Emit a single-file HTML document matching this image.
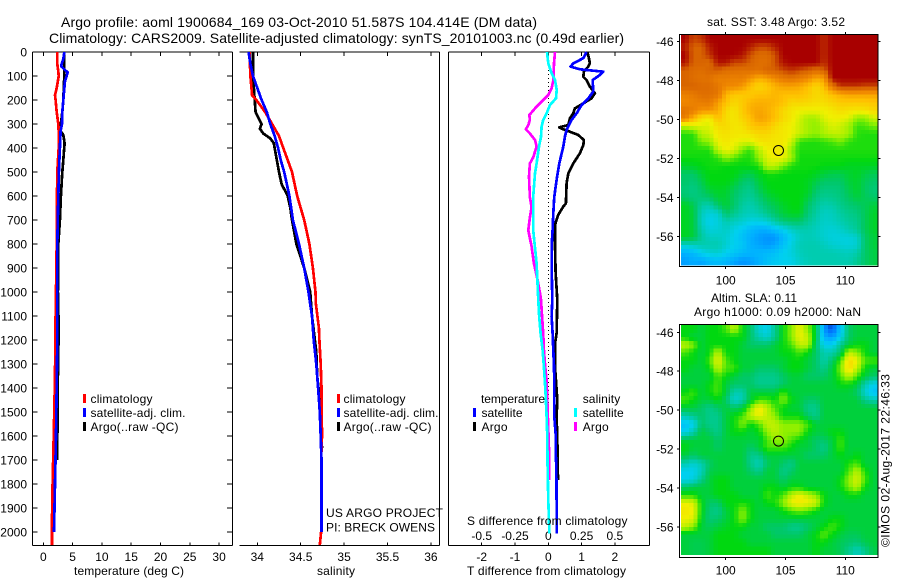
<!DOCTYPE html>
<html>
<head>
<meta charset="utf-8">
<style>
html,body{margin:0;padding:0;background:#fff;width:900px;height:580px;overflow:hidden}
svg{display:block}
text{font-family:"Liberation Sans",sans-serif;font-size:12px;fill:#000}
</style>
</head>
<body>
<svg id="fig" xmlns="http://www.w3.org/2000/svg" width="900" height="580" viewBox="0 0 900 580">
<text x="61" y="27" font-size="14" style="font-size:14px" textLength="476">Argo profile: aoml 1900684_169 03-Oct-2010 51.587S 104.414E (DM data)</text>
<text x="49" y="43" style="font-size:14px" textLength="575">Climatology: CARS2009. Satellite-adjusted climatology: synTS_20101003.nc (0.49d earlier)</text>
<g id="plots"></g>
<g id="maps"></g>
<g>
<rect x="83" y="394" width="3" height="9" fill="#f00"/>
<rect x="83" y="408" width="3" height="9" fill="#00f"/>
<rect x="83" y="422" width="3" height="9" fill="#000"/>
<text x="90.5" y="403" textLength="62">climatology</text>
<text x="90.5" y="417" textLength="95">satellite-adj. clim.</text>
<text x="90.5" y="431" textLength="88">Argo(..raw -QC)</text>
</g>
<g>
<rect x="337" y="394" width="3" height="9" fill="#f00"/>
<rect x="337" y="408" width="3" height="9" fill="#00f"/>
<rect x="337" y="422" width="3" height="9" fill="#000"/>
<text x="343.5" y="403" textLength="62">climatology</text>
<text x="343.5" y="417" textLength="95">satellite-adj. clim.</text>
<text x="343.5" y="431" textLength="88">Argo(..raw -QC)</text>
<text x="326" y="517" textLength="117">US ARGO PROJECT</text>
<text x="326" y="531.5" textLength="109">PI: BRECK OWENS</text>
</g>
<g>
<text x="481" y="403" textLength="64">temperature</text>
<rect x="473" y="408" width="3" height="9" fill="#00f"/>
<rect x="473" y="422" width="3" height="9" fill="#000"/>
<text x="481.5" y="417" textLength="41">satellite</text>
<text x="481.5" y="431" textLength="26">Argo</text>
<text x="582.7" y="403" textLength="37.5">salinity</text>
<rect x="574" y="408" width="3" height="9" fill="#0ff"/>
<rect x="574" y="422" width="3" height="9" fill="#f0f"/>
<text x="582.7" y="417" textLength="41">satellite</text>
<text x="582.7" y="431" textLength="26">Argo</text>
</g>
<text x="74" y="575" textLength="110">temperature (deg C)</text>
<text x="317" y="575" textLength="38">salinity</text>
<text x="467" y="575" textLength="159">T difference from climatology</text>
<text x="467" y="525" textLength="160.5">S difference from climatology</text>
<text x="707" y="26" textLength="138">sat. SST: 3.48 Argo: 3.52</text>
<text x="711" y="302" textLength="86">Altim. SLA: 0.11</text>
<text x="694" y="316" textLength="167">Argo h1000: 0.09 h2000: NaN</text>
<text transform="translate(889.5,547) rotate(-90)" textLength="173">©IMOS 02-Aug-2017 22:46:33</text>
</svg>
<script>
// ---- depth axis ----
const depthTicks = [0,100,200,300,400,500,600,700,800,900,1000,1100,1200,1300,1400,1500,1600,1700,1800,1900,2000];
// ---- temperature panel ----
const tempTicks = [0,5,10,15,20,25,30];
const tempClimDepth = [0,50,80,100,120,150,180,200,250,300,350,400,500,600,800,1000,1100,1350,1550,1800,1950,2054];
const tempClimValue = [2.39,2.39,2.56,2.62,2.5,2.28,1.99,2.1,2.28,2.56,2.67,2.62,2.39,2.33,2.28,2.16,2.1,1.99,1.82,1.59,1.48,1.48];
const tempSatDepth = [0,30,50,60,75,85,100,120,200,250,300,330,400,500,600,800,1000,1200,1400,1600,1800,2000];
const tempSatValue = [3.58,3.41,3.13,3.07,3.7,4.15,3.98,3.7,3.41,3.24,3.19,2.96,2.84,2.67,2.56,2.39,2.39,2.39,2.28,2.16,1.99,1.82];
const tempArgoDepth = [0,50,100,200,250,300,330,345,380,450,500,600,700,800,1000,1150,1350,1450,1700];
const tempArgoValue = [3.58,3.58,3.58,3.41,3.24,3.01,2.96,3.41,3.64,3.41,3.24,3.01,2.84,2.56,2.5,2.62,2.5,2.5,2.33];
// ---- salinity panel ----
const salTicks = [34,34.5,35,35.5,36];
const salClimDepth = [0,100,180,200,250,300,350,400,450,500,600,700,800,900,1000,1050,1150,1200,1300,1400,1600,1700,2000,2054];
const salClimValue = [33.91,33.92,33.94,33.99,34.09,34.17,34.25,34.3,34.35,34.4,34.46,34.54,34.6,34.64,34.67,34.675,34.71,34.715,34.73,34.74,34.745,34.735,34.735,34.72];
const salSatDepth = [0,50,100,150,200,250,300,350,400,450,500,600,700,800,900,1000,1050,1100,1200,1300,1400,1500,1600,1700,2000];
const salSatValue = [33.9,33.92,33.95,34,34.05,34.11,34.15,34.2,34.24,34.27,34.31,34.37,34.41,34.48,34.54,34.59,34.61,34.63,34.65,34.68,34.7,34.72,34.73,34.74,34.74];
const salArgoDepth = [0,100,200,250,280,300,320,340,360,380,420,500,550,600,650,700,800,900,1000,1100,1250,1350,1450,1650];
const salArgoValue = [33.95,33.95,33.97,33.98,34.02,34.05,34.03,34.07,34.15,34.19,34.21,34.25,34.28,34.35,34.38,34.4,34.45,34.54,34.61,34.63,34.68,34.69,34.72,34.745];
// ---- difference panel ----
const tDiffTicks = [-2,-1,0,1,2];
const sDiffTicks = [-0.5,-0.25,0,0.25,0.5];
const sDiffTickLabels = ['-0.5','-0.25','0','0.25','0.5'];
const tSatDepth = [0,26,47,61,72,82,96,117,165,193,221,256,283,325,353,394,464,533,603,672,742,811,881,1033,1103,1172,1242,1311,1381,1450,1519,1589,1658,1728,1867,2006];
const tSatValue = [1.15,1.05,0.75,0.67,0.95,1.65,1.55,1.33,1.35,1.2,1,0.85,0.7,0.55,0.5,0.45,0.33,0.25,0.18,0.15,0.13,0.1,0.1,0.12,0.1,0.13,0.15,0.17,0.18,0.18,0.18,0.22,0.22,0.24,0.25,0.25];
const tArgoDepth = [0,26,47,61,82,103,117,144,172,193,214,235,256,276,304,314,325,332,346,367,388,422,464,506,547,631,644,678,720,806,917,1033,1172,1214,1311,1450,1519,1608,1783];
const tArgoValue = [1.17,1.22,1.25,1.2,1.07,1.05,1.15,1.25,1.4,1.3,1.05,0.8,0.75,0.65,0.6,0.33,0.5,0.65,0.9,1.07,1.05,0.95,0.75,0.6,0.55,0.53,0.45,0.3,0.2,0.2,0.22,0.27,0.25,0.2,0.2,0.27,0.25,0.27,0.29];
const sSatDepth = [0,47,89,117,158,193,221,256,283,311,353,394,464,506,603,742,881,1033,1103,1172,1242,1311,1381,1450,1519,1589,1728,1867,2006];
const sSatValue = [-0.01,0,0.025,0.05,0.063,0.058,0.013,-0.013,-0.038,-0.05,-0.055,-0.07,-0.088,-0.1,-0.113,-0.113,-0.088,-0.075,-0.068,-0.058,-0.043,-0.033,-0.025,-0.018,-0.013,-0.008,-0.005,0,0.008];
const sArgoDepth = [0,47,117,151,179,207,235,263,283,304,322,339,367,394,439,464,519,606,647,689,742,811,881,950,1019,1033,1117,1172,1242,1311,1367,1658,1783];
const sArgoValue = [0.05,0.043,0.038,0.025,0,-0.05,-0.1,-0.143,-0.138,-0.15,-0.168,-0.138,-0.1,-0.088,-0.113,-0.138,-0.145,-0.138,-0.125,-0.138,-0.15,-0.125,-0.108,-0.08,-0.058,-0.055,-0.045,-0.038,-0.033,-0.023,-0.013,0.005,0.005];
// ---- maps ----
const lonTicks = [100,105,110];
const latTicks = [-46,-48,-50,-52,-54,-56];
const floatLon = 104.414;
const floatLat = -51.587;
const colourLevels = ['#0000a0','#0078ff','#00b0ff','#00d0f0','#00ccb0','#00c868','#00d810','#90f000','#f0f000','#ffc000','#f08800','#d86400','#a80000'];
const sstGrid = [
[12,11.3,11.5,12,12,12,12,12,12,12,12,12,12,12,12,12,12,11.6,12,12,12,12,12,12],
[11.7,11,11,11.7,12,12,12,12,11.7,11.3,11.3,11.7,12,12,12,12,12,11.6,12,12,12,12,12,12],
[12,11,11,11.5,12,12,12,11.8,11.2,10.8,10.8,11.2,12,12,12,12,12,11.6,12,12,12,12,12,12],
[11.8,11,11,10.8,11.8,11.8,11.3,11.3,11,10.7,10.7,11.2,11.8,12,12,12,12,11.5,12,12,12,12,12,12],
[11,10.8,10.7,11,11,10.7,10.7,10.6,10.7,10.6,11,11,11.3,11.5,11.3,11,10.7,11,12,12,12,12,12,12],
[11,10.7,10.6,10.6,10.2,10.3,10.2,10.3,9.8,9.3,9.5,10,10.4,10.6,10.3,10,9.4,9.6,12,12,12,12,12,12],
[11,11,10.8,10.8,10.5,10,10,9.7,9,8.5,8.8,9.2,9.5,9.5,9.4,9,8.5,9,10.5,11.5,11.5,11.5,11.3,11.3],
[10.2,10.4,10.7,10.7,10.5,9.2,8.8,8.8,8.8,9,9,9.2,9,9,9,8.8,8.5,8.6,9,9.3,9.5,9.5,9.5,9.5],
[10,10.2,10.3,10.4,9.6,9,8.5,8.8,9.2,9.3,9.3,9.2,9,8.5,8.6,8.5,8.4,8.4,8.6,8.8,8.8,8.8,8.8,8.9],
[10.6,10.3,9.8,9.8,9.4,8.5,8.2,8.8,9.3,9.5,9.3,9,8.5,8.2,8,8,8,8,8.2,8.4,8.3,8.2,8.3,8.5],
[10.3,9.2,8.3,8,9,8.4,8.2,8.6,9,9.6,9.4,9,8.5,8.2,7.7,7.2,7.2,7.8,8,8,7.8,7,7,7.6],
[7.5,7.8,7.8,7.8,8.4,8.5,8.2,8.3,8.8,9,9,8.5,8.2,8,7.6,7.2,7,7.4,7.8,7.6,7.2,6.4,6.5,6.8],
[6.2,6.3,7.4,7.6,8.2,8.3,8.2,8.2,8.3,8.5,8.5,8.3,8.2,8,7.6,7.2,7,7.3,7.5,7.5,7.2,6.3,6.2,6.2],
[6.2,6.2,6.8,7,8,8.2,8,7.8,7.8,8.2,8.3,8.2,8.2,7.6,6.3,6.2,6.2,6.3,6.5,6.8,6.3,6.2,6.2,6.2],
[6.2,6.2,6.2,6.2,7.5,8,7.8,6.8,6.3,7.4,8,8.2,8.1,7,6.2,6.2,6.2,6.2,6.2,6.2,6.2,6.2,6.2,6.2],
[6.1,6.1,6.1,6.1,6.3,7,6.6,6.2,6.2,7,7.8,8,8,7.2,6.1,6.1,6.1,6.1,6.1,6.1,6.1,6.1,6.1,6.1],
[5.7,5.8,6,6.1,6.1,6,6,6,6.1,6.2,7.5,7.5,6.8,6.2,6.1,6.1,6.1,6,6,6,5.8,5.8,5.8,5.8],
[5,5,5.6,6,6,6,6,5.5,5.3,5.8,6.1,6.1,6,6,6,6,5.8,5.5,5.3,5.3,5.6,5.8,5.4,5.2],
[5,4.8,5.3,6,6,6,5.7,5,4.8,5.5,6,6,6,6,6,5.8,5.4,5,5,5,5.5,5.7,5.2,5],
[4.8,4.6,5,5.6,5.8,5.7,5.2,4.7,4.5,5.2,5.8,6,6,6,6,5.8,5,4.7,4.7,4.8,5.3,5.7,5.1,4.8],
[5,4.7,4.8,5,5.6,5.6,5,4.5,4.3,4.8,5.4,5.7,6,6,6,5.5,4.7,4.4,4.5,4.7,5.1,5.5,5.2,5],
[5.8,5.3,4.2,4,5,5.6,5,4.2,4,4.4,5,5.3,5.7,6,6,5,4.4,4,4.1,4.5,4.8,5,5.2,5.5],
[5.8,5.5,3.8,3.3,3.5,5,4.5,4,3.8,4,4.5,5,5.5,5.8,5.8,4.8,4.2,3.7,3.8,4.2,4.5,4.7,5.2,5.7],
[5.8,5.5,3.7,3,3.3,4,3.8,3.5,3.2,3.2,3.5,4.2,4.8,5,5,4.4,4,3.6,3.7,4,4.3,4.5,5.2,5.7],
[5.8,5.5,4,3.3,3.4,3.7,3.2,2.8,2.3,2,2,2.5,3,3.7,4,4,3.8,3.5,3.4,3.6,4,4.4,5.2,5.7],
[5.8,5.5,4.3,3.7,3.7,3.5,3,2.5,2,1.7,1.5,1.5,2.2,3,3.7,3.9,3.8,3.5,3.3,3.3,3.3,3.6,5,5.5],
[3.6,3.8,4,4,4,3.5,3,2.7,2,1.8,1.6,1.8,2.5,3.3,3.9,4,4,3.8,3.5,3.4,3.3,3.5,5,5.5],
[2,2.3,3,3.4,3.5,3,2.7,2.3,2.1,2.2,2.3,2.5,3,3.3,3.8,4,4,4,4,3.9,3.8,4.1,5,5.4],
[1.7,1.9,1.8,2.2,2.4,2.2,1.8,1.5,1.7,2,2.5,2.8,3,3.1,3.6,3.9,4,4,4,4,4,4.4,5,5.4]
];
const slaGrid = [
[6,6,5.5,6,6,6.5,7.5,6,5,3.5,3,4.5,6,7,8,7,5.5,1.5,0.5,2.5,5,5.5,5.5,5.5],
[6,5.5,5.5,6,6,6,6,6,5,4,3.5,4.5,6,7,8,7.5,5.5,2,1.5,3,5,5.5,5.5,5.5],
[7.5,7,5.5,6,6,6,6,5.5,5,5,5,5.5,6,6.5,7.5,7.5,5,3,3,4.5,5.5,6,6,5.5],
[6.5,6,5.5,6,7.5,6,6,5.5,5.5,5.5,5.5,5.5,6,6,6.5,6,5,4,4,5,7.5,7,6,5.5],
[6,6,5.5,6.5,8,6.5,6,5.5,5.5,5.5,5.5,5.5,5.5,6,6,5.5,5,4,5,6.5,8.5,8,6.5,6.5],
[6,5.5,5.5,6,7.5,6.5,6.5,5.5,5.5,5,5,5,5.5,6,6,5.5,5,4.5,5.5,7,8.5,7.5,6,5.5],
[5.5,5.5,5.5,5.5,6.5,6,5.5,5,5,4.5,4.5,4.5,5,5.5,5.5,5,5,5,5.5,6.5,7.5,6.5,5.5,5],
[5.5,5.5,5.5,6,6.5,5.5,5,5,5,4.5,4.5,4.5,5,5.5,5.5,5.5,5.5,5.5,5.5,6,6,5.5,4,3],
[6,6.5,5.5,6,6.5,5.5,4,4,5.5,5.5,5.5,5.5,6.5,5.5,5.5,5.5,5.5,5.5,5.5,5.5,5.5,5,3.5,2.5],
[6.5,6,5.5,5.5,6,5,3.5,4,5.5,6.5,6.5,6,7,6,5.5,5,5,5.5,5.5,5.5,5.5,5.5,4.5,4],
[5.5,5.5,5,4.5,5,5.5,5,5.5,7,8.2,7.5,6.5,6,5.5,5.5,4.5,4.5,5.5,5.5,5.5,5.5,5.5,5.5,5.5],
[4,4.5,5,4.5,4.5,5.5,6,6.5,7.5,8,7.5,7,6,6,6,5,4.5,5.5,5.5,5.5,5.5,5.5,5.5,5.5],
[2.5,3,5,4.5,4.5,5.5,6,7,6,6.5,7.5,7.5,7,7,7,6.5,5.5,5.5,5.5,5.5,5.5,5.5,5.5,5.5],
[3,4,5.5,5,4.5,5.5,6,6,5.5,6,7,7.5,7,7,7,6,5.5,5.5,6,6,5.5,5.5,5.5,5.5],
[5.5,5.5,5.5,5.5,5,5.5,5.5,5.5,5.5,5.5,6.5,7,7,6.5,6,5.5,5,5,5.5,6.5,5.5,5.5,5.5,5.5],
[6,5.5,5.5,5.5,5,5.5,5.5,5.5,5,5.5,6.5,6.5,6.5,6,5.5,5.5,5,4.5,5.5,6.5,5.5,5.5,5.5,5.5],
[5.5,5,5.5,5.5,5.5,5.5,5.5,5.5,4.5,4.5,5.5,5.5,5.5,5.5,5.5,5,5,5,5.5,6,5.5,6,5.5,5.5],
[4,3.5,4,5,5.5,5.5,5.5,5.5,4.5,3.8,5,5.5,5,4.5,5.5,5.5,5.5,5.5,5.5,5.5,6.2,6.5,5.5,5.5],
[3,3,3.8,5.3,5.5,5.5,5.5,5.5,5,4.5,5.5,5.5,4.5,5,5.5,5.5,5.5,5.5,5.5,5.5,6.5,7.5,6.2,5.5],
[3,3.3,4.5,5.5,6,6,5.5,5.5,5.5,5.5,5.5,5.5,5,5.5,5.5,5.5,5.5,5.5,5.5,6,7,7.8,6.5,5.5],
[5,5.3,5.5,5.5,6,6,5.5,5.5,5.5,5.5,6,6,5.5,6,6,5.5,5.5,5.5,5.5,6,6.8,7.5,6,5.5],
[6.2,6.2,5.5,5.5,6,6,6,5.5,5.5,5.5,6.5,6,6.5,7.5,8,7.5,7,6,5.5,5.5,6,6,5.5,5.5],
[8,7.8,6,5,5,6,6,6.2,6,5.5,6,6.2,7,8,8.2,8,7.7,6,5.5,5.5,5.5,5.5,5.5,5.5],
[8.2,8,6,4.8,4.5,5.5,6,7,6,5.5,5.5,5.5,6,6.5,6.8,6.5,6,5.5,5.5,5.5,5.5,5.5,5.5,5.5],
[8,7.8,5.8,4.8,5,5.5,6,7,6,5.5,5.5,5.5,5.5,5.5,5.5,5.5,5.5,5.5,6,6,5.5,5.5,5.5,5.5],
[7.5,7,5.5,5.2,5.5,5.8,6,6,5.5,5.5,5,5,5,4.5,4.5,5,5.5,6,6.5,6,5.5,5.5,5.5,5.5],
[5.5,5.5,5.5,5.5,6,6,6,5.5,5.5,5.5,5.5,5,5,5,5,5.5,6,6.7,6,5.5,5.2,5.2,5.5,5.5],
[5.5,5.3,5.3,5.5,6,6,6,6,5.5,5.5,5.5,5.5,5.5,5.5,5.5,5.5,6,6,5.5,5.2,5,4.8,5.3,5.5],
[5.5,5.3,5.3,5.5,6,6,6,6,6,6,6,5.5,5.5,5.5,5.5,5.5,6,5.5,5.5,5.2,4.5,3.8,4.5,5.3]
];

const NS = 'http://www.w3.org/2000/svg';
const plots = document.getElementById('plots');
const maps = document.getElementById('maps');

function make(parent, tag, attrs, txt) {
  const el = document.createElementNS(NS, tag);
  for (const k in attrs) el.setAttribute(k, attrs[k]);
  if (txt !== undefined) el.textContent = txt;
  parent.appendChild(el);
  return el;
}

// axis functions
const yDepth = d => 52 + 0.24 * d;
const xTemp = t => 43.3 + 5.86 * t;
const xSal = s => 257.3 + 86.8 * (s - 34);
const xTDiff = t => 548.3 + 33.3 * t;
const xSDiff = s => 548.3 + 133.2 * s;
const Y_TOP = 52, Y_BOT = 545.5;

function drawSeries(depths, values, xFn, colour, name) {
  const pts = depths.map((d, i) => xFn(values[i]).toFixed(1) + ',' + yDepth(d).toFixed(1)).join(' ');
  const line = make(plots, 'polyline', {points: pts, fill: 'none', stroke: colour, 'stroke-width': 2.7, 'stroke-linejoin': 'round', 'shape-rendering': 'crispEdges'});
  
  
}

function seg(parent, x1, y1, x2, y2, name) {
  const l = make(parent, 'line', {x1: x1, y1: y1, x2: x2, y2: y2, stroke: '#000', 'stroke-width': 1, 'shape-rendering': 'crispEdges'});
  
  
  return l;
}

function label(parent, x, y, anchor, str, name) {
  const t = make(parent, 'text', {x: x, y: y, 'text-anchor': anchor}, str);
  
  
  return t;
}

function frame(x0, x1, left, right) {
  seg(plots, x0, Y_TOP, x1, Y_TOP, 'axis-top');
  seg(plots, x0, Y_BOT, x1, Y_BOT, 'axis-bottom');
  if (left) seg(plots, x0, Y_TOP, x0, Y_BOT, 'axis-left');
  if (right) seg(plots, x1, Y_TOP, x1, Y_BOT, 'axis-right');
}

function xTicks(vals, xFn, labels, yLab, name) {
  vals.forEach((v, i) => {
    const x = xFn(v);
    seg(plots, x, Y_TOP, x, Y_TOP + 4, name + '-tick-top');
    seg(plots, x, Y_BOT, x, Y_BOT - 3, name + '-tick-bottom');
    label(plots, x, yLab, 'middle', labels[i], name + '-tick-label');
  });
}

// temperature panel
frame(32.5, 232.5, true, true);
depthTicks.forEach(d => {
  const y = yDepth(d);
  seg(plots, 32.5, y, 37.5, y, 'depth-tick-left');
  seg(plots, 232.5, y, 227, y, 'depth-tick-right');
  label(plots, 27, y + 4.5, 'end', String(d), 'depth-tick-label');
});
xTicks(tempTicks, xTemp, tempTicks.map(String), 561, 'temperature');
drawSeries(tempArgoDepth, tempArgoValue, xTemp, '#000', 'temperature-argo-line');
drawSeries(tempClimDepth, tempClimValue, xTemp, '#f00', 'temperature-climatology-line');
drawSeries(tempSatDepth, tempSatValue, xTemp, '#00f', 'temperature-satellite-line');

// salinity panel
frame(239.5, 439.5, false, true);
xTicks(salTicks, xSal, salTicks.map(String), 561, 'salinity');
drawSeries(salArgoDepth, salArgoValue, xSal, '#000', 'salinity-argo-line');
drawSeries(salClimDepth, salClimValue, xSal, '#f00', 'salinity-climatology-line');
drawSeries(salSatDepth, salSatValue, xSal, '#00f', 'salinity-satellite-line');

// difference panel
frame(448.5, 649.5, true, true);
xTicks(tDiffTicks, xTDiff, tDiffTicks.map(String), 561, 't-difference');
sDiffTicks.forEach((v, i) => label(plots, xSDiff(v), 540, 'middle', sDiffTickLabels[i], 's-difference-tick-label'));
const zeroLine = make(plots, 'line', {x1: xTDiff(0), y1: 66, x2: xTDiff(0), y2: 432, stroke: '#000', 'stroke-width': 1, 'stroke-dasharray': '1 3', 'shape-rendering': 'crispEdges'});


drawSeries(tArgoDepth, tArgoValue, xTDiff, '#000', 't-difference-argo-line');
drawSeries(tSatDepth, tSatValue, xTDiff, '#00f', 't-difference-satellite-line');
drawSeries(sArgoDepth, sArgoValue, xSDiff, '#f0f', 's-difference-argo-line');
drawSeries(sSatDepth, sSatValue, xSDiff, '#0ff', 's-difference-satellite-line');

// colour scale
function hexRGB(h) { return [1, 3, 5].map(i => parseInt(h.substr(i, 2), 16)); }
function colourFor(v) {
  const c = Math.max(0, Math.min(colourLevels.length - 1, v));
  const i = Math.min(colourLevels.length - 2, Math.floor(c));
  const f = c - i;
  const a = hexRGB(colourLevels[i]), b = hexRGB(colourLevels[i + 1]);
  return 'rgb(' + a.map((p, k) => Math.round(p + (b[k] - p) * f)).join(',') + ')';
}

// the map rasters are shaded at half-cell resolution so gradients look like the gridded field
function sampleGrid(grid, fx, fy) {
  const rows = grid.length, cols = grid[0].length;
  const gx = Math.max(0, Math.min(cols - 1.001, fx)), gy = Math.max(0, Math.min(rows - 1.001, fy));
  const i = Math.floor(gx), j = Math.floor(gy), u = gx - i, v = gy - j;
  return grid[j][i] * (1 - u) * (1 - v) + grid[j][i + 1] * u * (1 - v) + grid[j + 1][i] * (1 - u) * v + grid[j + 1][i + 1] * u * v;
}

function drawMap(grid, top, bottom, boxTop, boxBottom, lat46y, labY, name) {
  const left = 681, right = 877.3;
  const cols = grid[0].length, rows = grid.length;
  const cw = (right - left) / cols / 2, ch = (bottom - top) / rows / 2;
  const xLon = lon => 725.7 + 11.96 * (lon - 100);
  const yLat = lat => lat46y + 19.47 * (-46 - lat);
  for (let j = 0; j < rows * 2; j++) {
    for (let k = 0; k < cols * 2; k++) {
      const v = sampleGrid(grid, (k - 0.5) / 2, (j - 0.5) / 2);
      const r = make(maps, 'rect', {x: (left + k * cw).toFixed(2), y: (top + j * ch).toFixed(2), width: (cw + 0.4).toFixed(2), height: (ch + 0.4).toFixed(2), fill: colourFor(v), 'shape-rendering': 'crispEdges'});
      
      
    }
  }
  const box = make(maps, 'rect', {x: 679.5, y: boxTop, width: 198.5, height: boxBottom - boxTop, fill: 'none', stroke: '#000', 'stroke-width': 1, 'shape-rendering': 'crispEdges'});
  
  
  latTicks.forEach(lat => {
    const y = yLat(lat);
    seg(maps, 677, y, 679.5, y, name + '-lat-tick');
    seg(maps, 878, y, 880.5, y, name + '-lat-tick');
    label(maps, 673.5, y + 4.5, 'end', String(lat), name + '-lat-label');
  });
  lonTicks.forEach(lon => {
    const x = xLon(lon);
    seg(maps, x, boxTop - 2.5, x, boxTop, name + '-lon-tick');
    seg(maps, x, boxBottom, x, boxBottom + 2.5, name + '-lon-tick');
    label(maps, x, labY, 'middle', String(lon), name + '-lon-label');
  });
  const m = make(maps, 'circle', {cx: xLon(floatLon), cy: yLat(floatLat), r: 5, fill: 'none', stroke: '#000', 'stroke-width': 1});
  
  
}

drawMap(sstGrid, 35, 265, 34.5, 266.5, 41.7, 284.5, 'sst-map');
drawMap(slaGrid, 325, 554.5, 324.5, 557.5, 332.3, 574.5, 'sla-map');
</script>
</body>
</html>
